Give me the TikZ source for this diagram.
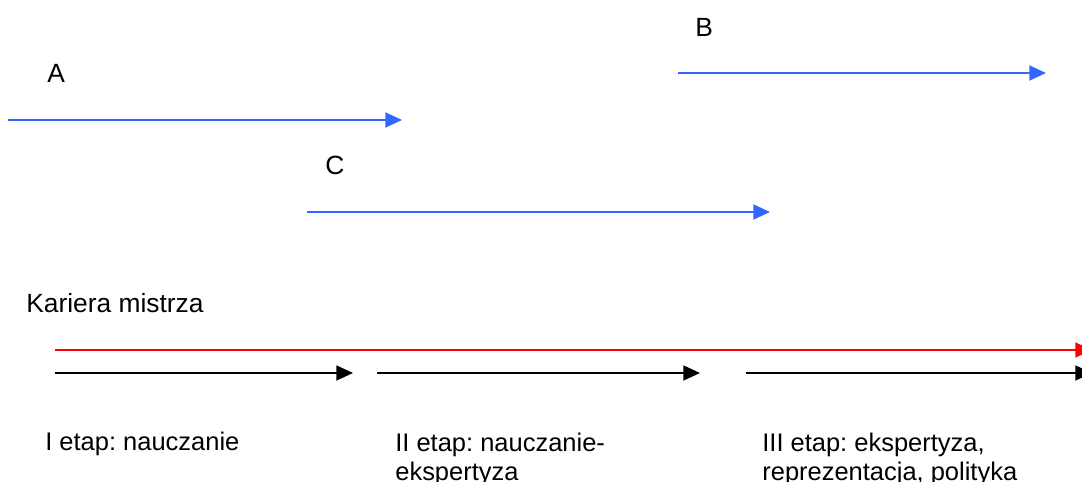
\documentclass[tikz,border=0pt]{standalone}
\usepackage{fontspec}
\setmainfont{Liberation Sans}
\frenchspacing
\usetikzlibrary{arrows.meta}
\definecolor{lineblue}{RGB}{51,102,255}
\definecolor{linered}{RGB}{255,0,0}
\tikzset{
    lbl/.style={anchor=base west, inner sep=0pt, font=\fontsize{15}{18}\selectfont},
    stage/.style={anchor=base west, inner sep=0pt, align=left, font=\fontsize{14.5}{17}\selectfont},
    bluearrow/.style={->, lineblue, line width=1.2pt},
    blackarrow/.style={->, black, line width=1.1pt},
    redarrow/.style={->, linered, line width=0.9pt}
}
\begin{document}
\begin{tikzpicture}[x=0.02cm, y=-0.02cm, >={Triangle[length=9.5pt,width=8.5pt]}]
        \useasboundingbox (0,0) rectangle (1082,482);
        \node[lbl] (lblA) at (47,83) {A};
        \node[lbl] (lblB) at (695,37) {B};
        \node[lbl] (lblC) at (325,175) {C};
        \node[lbl] (kariera) at (26,313) {Kariera mistrza};
        \coordinate (a1) at (8,120);
        \coordinate (a2) at (402,120);
        \coordinate (b1) at (678,73);
        \coordinate (b2) at (1046,73);
        \coordinate (c1) at (307,212);
        \coordinate (c2) at (770,212);
        \coordinate (r1) at (55,350);
        \coordinate (r2) at (1092,350);
        \coordinate (k1) at (55,373);
        \coordinate (k2) at (353,373);
        \coordinate (k3) at (377,373);
        \coordinate (k4) at (700,373);
        \coordinate (k5) at (746,373);
        \coordinate (k6) at (1092,373);
        \draw[bluearrow] (a1) -- (a2);
        \draw[bluearrow] (b1) -- (b2);
        \draw[bluearrow] (c1) -- (c2);
        \draw[redarrow] (r1) -- (r2);
        \draw[blackarrow] (k1) -- (k2);
        \draw[blackarrow] (k3) -- (k4);
        \draw[blackarrow] (k5) -- (k6);
        \node[stage] (etap1) at (45,451) {I etap: nauczanie};
        \node[stage] (etap2) at (395,481) {II etap: nauczanie-\\ekspertyza};
        \node[stage] (etap3) at (762,481) {III etap: ekspertyza,\\reprezentacja, polityka};
    \end{tikzpicture}
\end{document}
